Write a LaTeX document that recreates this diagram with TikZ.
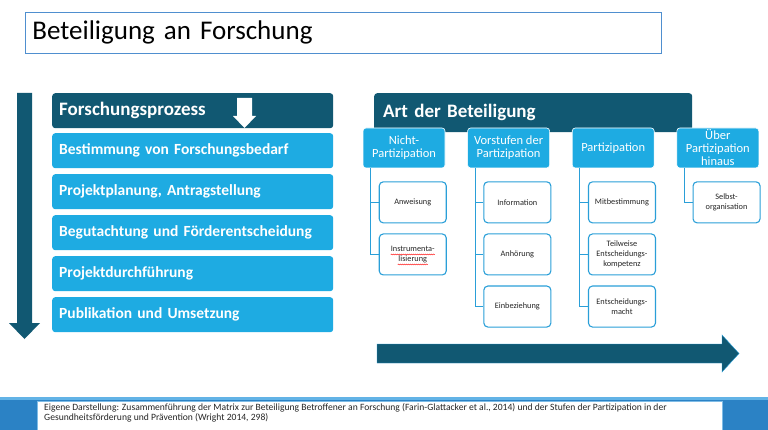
\documentclass[tikz,border=0pt]{standalone}
\usepackage{fontspec}
\setmainfont{Carlito}
\usetikzlibrary{positioning,calc,decorations.pathmorphing}
\definecolor{darkcol}{HTML}{115872}
\definecolor{stepcol}{HTML}{1EABE2}
\definecolor{linecol}{HTML}{2A9FD8}
\definecolor{framecol}{HTML}{4F8FCF}
\definecolor{bandcol}{HTML}{2B82C5}
\definecolor{bandtop}{HTML}{62B3E6}
\definecolor{notecol}{HTML}{7FBCE6}
\definecolor{textcol}{HTML}{262626}

\begin{document}
\begin{tikzpicture}[
  x=1pt, y=-1pt,
  titlebox/.style={
    draw=framecol, line width=0.8pt, fill=white, anchor=north west,
    minimum width=636pt, minimum height=41pt, text width=622pt, inner xsep=7pt,
    align=left, font=\fontsize{27}{30}\selectfont, text=black,
  },
  kopf/.style={
    fill=darkcol, rounded corners=3pt, anchor=north west, text=white,
    align=left, inner xsep=7pt, font=\fontsize{19}{22}\selectfont\bfseries,
  },
  phase/.style={
    fill=stepcol, rounded corners=3pt, anchor=north west, text=white,
    minimum height=35pt, text width=267pt, inner xsep=7pt, align=left,
    font=\fontsize{15.5}{18}\selectfont\bfseries,
  },
  stufe/.style={
    fill=stepcol, draw=white, line width=0.6pt, rounded corners=3pt,
    minimum width=82pt, minimum height=40pt, inner sep=1pt, align=center,
    text=white, font=\fontsize{12.5}{13}\selectfont,
  },
  leaf/.style={
    draw=linecol, line width=1.1pt, fill=white, rounded corners=4pt,
    minimum width=67pt, minimum height=41pt, inner sep=1pt, align=center,
    text=textcol, font=\fontsize{8.3}{9.8}\selectfont,
  },
  conn/.style={draw=linecol, line width=1.1pt},
  bigarrow/.style={fill=darkcol},
]

\useasboundingbox (0,0) rectangle (768,430);

% ============================================================
% TITLE
% ============================================================
\node[titlebox] (titel) at (25,12) {Beteiligung an Forschung};

% ============================================================
% LEFT: research process
% ============================================================
\fill[bigarrow] (17,93) -- (32,93) -- (32,323) -- (40,323) -- (24.5,339)
  -- (9,323) -- (17,323) -- cycle;

\node[kopf, minimum height=35pt, text width=267pt] (prozess) at (52,93) {Forschungsprozess};
\fill[white] (237,98) -- (252,98) -- (252,116) -- (256,116) -- (244.5,128)
  -- (233,116) -- (237,116) -- cycle;

\foreach \txt [count=\i] in {Bestimmung von Forschungsbedarf,
    {Projektplanung, Antragstellung}, Begutachtung und Förderentscheidung,
    Projektdurchführung, Publikation und Umsetzung}
  \node[phase] (p\i) at (52, 92+41*\i) {\txt};

% ============================================================
% RIGHT: kind of participation
% ============================================================
\node[kopf, minimum height=39pt, inner xsep=9pt, text width=300pt] (art) at (374,93) {Art der Beteiligung};

\node[stufe] (nicht) at (404,148) {Nicht-\\Partizipation};
\node[stufe, right=22pt of nicht] (vor) {Vorstufen der\\Partizipation};
\node[stufe, right=22pt of vor] (part) {Partizipation};
\node[stufe, right=22pt of part] (ueber) {Über\\Partizipation\\hinaus};

% children
\node[leaf, below right=13pt and 16pt of nicht.south west] (anw) {Anweisung};
\node[leaf, below=10pt of anw] (instr) {Instrumenta-\\lisierung};

\node[leaf, below right=13pt and 16pt of vor.south west] (info) {Information};
\node[leaf, below=10pt of info] (anh) {Anhörung};
\node[leaf, below=10pt of anh] (einb) {Einbeziehung};

\node[leaf, below right=13pt and 16pt of part.south west] (mitb) {Mitbestimmung};
\node[leaf, below=10pt of mitb] (teilw) {Teilweise\\Entscheidungs-\\kompetenz};
\node[leaf, below=10pt of teilw] (macht) {Entscheidungs-\\macht};

\node[leaf, below right=13pt and 16pt of ueber.south west] (selbst) {Selbst-\\organisation};

\foreach \p/\c in {nicht/anw, nicht/instr, vor/info, vor/anh, vor/einb,
                   part/mitb, part/teilw, part/macht, ueber/selbst}
  \draw[conn] ([xshift=8pt]\p.south west) |- (\c.west);

% spell-check marks
\draw[red, line width=0.4pt, decorate, decoration={snake, amplitude=0.5pt, segment length=2pt}]
  ($(instr.center)+(-22,0)$) -- ++(44,0);
\draw[red, line width=0.4pt, decorate, decoration={snake, amplitude=0.5pt, segment length=2pt}]
  ($(instr.center)+(-15,10)$) -- ++(30,0);

\fill[bigarrow, draw=linecol, line width=0.4pt] (377,344) -- (722,344) -- (722,335)
  -- (739,353.5) -- (722,372) -- (722,363) -- (377,363) -- cycle;

% ============================================================
% SOURCE BAND
% ============================================================
\fill[bandcol] (0,397) rectangle (768,430);
\fill[bandtop] (0,397) rectangle (768,400);
\fill[white, draw=notecol, line width=0.8pt] (37,401) rectangle (722,432);
\node[anchor=north west, align=left, inner sep=0pt, text=textcol,
      font=\fontsize{9.6}{10.5}\selectfont] (quelle) at (44,403)
  {Eigene Darstellung: Zusammenführung der Matrix zur Beteiligung Betroffener an Forschung (Farin-Glattacker et al., 2014) und der Stufen der Partizipation in der\\
   Gesundheitsförderung und Prävention (Wright 2014, 298)};

\end{tikzpicture}
\end{document}
